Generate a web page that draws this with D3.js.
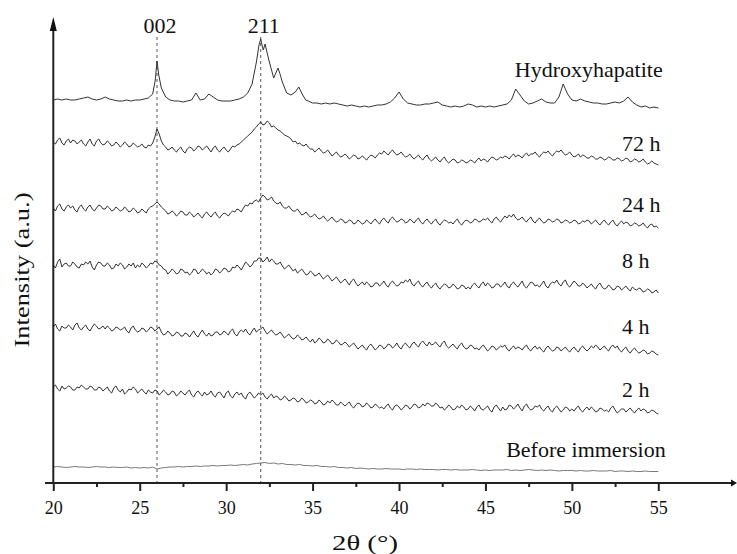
<!DOCTYPE html>
<html><head><meta charset="utf-8">
<script src="https://cdn.jsdelivr.net/npm/d3@7"></script>
<style>
body{margin:0;background:#fff}
svg{display:block}
text{font-family:"Liberation Serif","Times New Roman",serif;fill:#111}
</style>
</head><body>
<svg id="chart" width="737" height="554"></svg>
<script>
// ---- DATA ----
// fine sampling grid (2θ, degrees) for the noisy time-series scans
const twoTheta = [20,20.125,20.25,20.375,20.5,20.625,20.75,20.875,21,21.125,21.25,21.375,21.5,21.625,21.75,21.875,22,22.125,22.25,22.375,22.5,22.625,22.75,22.875,23,23.125,23.25,23.375,23.5,23.625,23.75,23.875,24,24.125,24.25,24.375,24.5,24.625,24.75,24.875,25,25.125,25.25,25.375,25.5,25.625,25.75,25.875,26,26.125,26.25,26.375,26.5,26.625,26.75,26.875,27,27.125,27.25,27.375,27.5,27.625,27.75,27.875,28,28.125,28.25,28.375,28.5,28.625,28.75,28.875,29,29.125,29.25,29.375,29.5,29.625,29.75,29.875,30,30.125,30.25,30.375,30.5,30.625,30.75,30.875,31,31.125,31.25,31.375,31.5,31.625,31.75,31.875,32,32.125,32.25,32.375,32.5,32.625,32.75,32.875,33,33.125,33.25,33.375,33.5,33.625,33.75,33.875,34,34.125,34.25,34.375,34.5,34.625,34.75,34.875,35,35.125,35.25,35.375,35.5,35.625,35.75,35.875,36,36.125,36.25,36.375,36.5,36.625,36.75,36.875,37,37.125,37.25,37.375,37.5,37.625,37.75,37.875,38,38.125,38.25,38.375,38.5,38.625,38.75,38.875,39,39.125,39.25,39.375,39.5,39.625,39.75,39.875,40,40.125,40.25,40.375,40.5,40.625,40.75,40.875,41,41.125,41.25,41.375,41.5,41.625,41.75,41.875,42,42.125,42.25,42.375,42.5,42.625,42.75,42.875,43,43.125,43.25,43.375,43.5,43.625,43.75,43.875,44,44.125,44.25,44.375,44.5,44.625,44.75,44.875,45,45.125,45.25,45.375,45.5,45.625,45.75,45.875,46,46.125,46.25,46.375,46.5,46.625,46.75,46.875,47,47.125,47.25,47.375,47.5,47.625,47.75,47.875,48,48.125,48.25,48.375,48.5,48.625,48.75,48.875,49,49.125,49.25,49.375,49.5,49.625,49.75,49.875,50,50.125,50.25,50.375,50.5,50.625,50.75,50.875,51,51.125,51.25,51.375,51.5,51.625,51.75,51.875,52,52.125,52.25,52.375,52.5,52.625,52.75,52.875,53,53.125,53.25,53.375,53.5,53.625,53.75,53.875,54,54.125,54.25,54.375,54.5,54.625,54.75,54.875,55];

// coarse grid for the smooth "before immersion" scan
const twoThetaCoarse = [20,20.25,20.5,20.75,21,21.25,21.5,21.75,22,22.25,22.5,22.75,23,23.25,23.5,23.75,24,24.25,24.5,24.75,25,25.25,25.5,25.75,26,26.25,26.5,26.75,27,27.25,27.5,27.75,28,28.25,28.5,28.75,29,29.25,29.5,29.75,30,30.25,30.5,30.75,31,31.25,31.5,31.75,32,32.25,32.5,32.75,33,33.25,33.5,33.75,34,34.25,34.5,34.75,35,35.25,35.5,35.75,36,36.25,36.5,36.75,37,37.25,37.5,37.75,38,38.25,38.5,38.75,39,39.25,39.5,39.75,40,40.25,40.5,40.75,41,41.25,41.5,41.75,42,42.25,42.5,42.75,43,43.25,43.5,43.75,44,44.25,44.5,44.75,45,45.25,45.5,45.75,46,46.25,46.5,46.75,47,47.25,47.5,47.75,48,48.25,48.5,48.75,49,49.25,49.5,49.75,50,50.25,50.5,50.75,51,51.25,51.5,51.75,52,52.25,52.5,52.75,53,53.25,53.5,53.75,54,54.25,54.5,54.75,55];

const beforeImmersion = [5,5.5,5,4.5,5,5.5,5,5,4.5,5,5.5,5,5,4.5,5,4.5,4.5,5,4,4.5,4,4.5,4,5,3,4,4.5,5,5,5.5,5,5.5,5.5,6,5.5,6,6,6.5,6,6.5,6.5,7,6.5,7,7.5,7,8,8.5,9,9.5,8.5,9,8,8.5,7.5,7.5,7,7.5,6.5,6.5,6,6.5,5.5,5.5,5,5.5,4.5,4.5,4,4.5,3.5,4,3.5,3,3.5,3,3,3.5,3,3,3,2.5,3,3,2.5,3,2.5,2.5,2.5,2,2.5,2.5,2,2.5,2,2,2,2.5,2,1.5,2,1.5,2,2,2,2.5,1.5,2,1.5,2,2.5,2,1.5,2,1.5,2,1.5,1,1.5,1.5,1.5,1,1.5,1,1,1.5,1,1,1,1.5,0.5,1,1,0.5,1,0.5,0.5,1,0.5,0.5,0.5];

const h2 = [27,29,25,23,28,25,26,28, 27,24,24,27,26,29,27,25, 25,28,27,24,24,27,26,23, 25,27,23,21,26,28,24,22, 25,20,22,25,24,27,25,21, 23,25,22,20,24,22,21,24, 23,19,21,24,22,19,20,23, 22,18,20,23,21,19,22,24, 19,17,21,23,20,18,22,19, 20,23,19,17,21,22,19,16, 21,23,18,16,20,22,19,21, 17,15,20,22,19,16,18,21, 19,21,17,15,18,20,16,18, 17,14,15,18,16,13,14,16, 15,12,13,16,14,11,12,14, 13,10,11,14,12,9,10,13, 11,14,12,9,9,12,10,8, 10,12,8,6,9,11,10,7, 8,11,9,6,7,10,8,6, 7,5,8,10,6,4,8,9, 7,4,6,9,8,5,7,10, 9,6,7,10,8,11,10,8, 8,11,9,6,7,4,6,9, 7,4,5,8,6,9,7,4, 5,8,6,3,7,9,5,4, 6,8,4,2,7,9,6,3, 7,4,5,9,8,5,7,10, 6,3,8,10,6,4,5,8, 7,9,5,3,6,8,4,2, 6,8,5,2,4,7,6,3, 5,3,6,8,4,2,5,7, 4,7,5,2,3,6,5,3, 4,2,6,8,4,1,3,5, 5,2,4,6,3,1,4,6, 3,5,4,1,2,4,3,1, 0];

const h4 = [28,31,26,24,29,27,27,30, 28,25,30,32,27,25,28,30, 26,24,28,31,29,26,27,29, 26,29,27,24,25,28,27,25, 26,28,24,22,27,29,25,23, 24,27,26,23,25,28,27,24, 26,28,23,20,21,24,22,19, 20,23,22,19,19,22,21,18, 21,24,20,18,22,25,21,19, 22,19,20,23,23,20,21,24, 22,20,24,26,21,19,23,25, 23,26,22,20,24,27,23,25, 26,28,24,21,23,25,22,20, 21,23,20,17,19,21,18,16, 17,20,18,15,16,18,15,13, 16,12,14,17,15,12,13,16, 14,11,12,15,13,10,11,13, 11,8,10,12,9,6,8,10, 7,5,9,11,8,5,7,10, 9,6,8,11,10,7,9,12, 8,6,10,12,9,7,11,13, 10,8,12,14,11,9,13,10, 11,13,10,8,12,14,9,7, 9,11,8,6,10,12,8,6, 7,10,9,6,7,5,8,10, 7,4,6,9,8,5,7,9, 8,10,6,4,7,9,6,8, 7,5,8,10,6,4,7,9, 6,8,5,3,7,9,6,4, 5,8,7,4,6,8,5,3, 6,8,5,3,7,9,6,4, 6,9,7,10,8,5,7,9, 6,4,8,10,7,9,5,3, 6,8,4,2,5,7,4,2, 3,5,4,1,2,4,3,1, 0];

const h8 = [27,24,30,33,25,28,29,26, 26,30,28,25,24,28,27,30, 28,31,25,22,27,30,29,26, 26,29,27,23,24,28,26,29, 27,23,25,28,26,29,24,27, 25,29,27,24,26,29,28,31, 30,27,26,23,22,18,20,23, 21,18,19,23,22,19,20,17, 19,23,22,18,20,23,21,18, 20,17,19,23,22,19,21,24, 23,20,21,25,24,27,25,22, 26,30,28,25,27,31,31,34, 34,30,32,35,30,33,31,28, 28,30,26,23,25,27,24,21, 23,19,21,23,20,17,18,21, 19,16,17,19,16,13,15,17, 14,11,13,15,12,9,11,13, 10,7,11,13,9,6,8,10, 7,10,8,5,6,9,9,6, 8,11,7,5,9,11,8,6, 7,10,9,12,10,13,8,6, 9,11,7,5,8,10,6,4, 7,9,5,3,6,8,7,4, 5,8,6,3,4,7,6,3, 5,3,7,9,6,4,8,10, 6,9,7,4,5,8,8,5, 7,10,6,4,8,10,7,5, 8,11,6,4,7,10,9,6, 7,5,8,11,6,4,8,10, 9,12,8,6,10,12,7,5, 8,11,9,6,6,9,7,4, 6,8,5,3,7,9,5,3, 4,7,5,2,3,6,5,2, 4,6,3,1,5,3,2,4, 3,0,1,3,2,-1,0,2, -1];

const h24 = [20,17,22,24,19,17,21,23, 20,22,18,16,21,23,19,17, 21,23,19,17,20,23,22,19, 19,22,20,17,18,21,19,17, 18,21,19,16,17,20,18,15, 16,19,17,15,19,21,22,24, 26,24,21,19,17,14,15,17, 15,12,14,17,16,13,13,16, 14,11,13,15,12,10,14,16, 13,11,14,16,12,10,13,15, 14,12,15,17,16,19,18,16, 20,23,22,25,24,27,28,26, 30,33,31,28,29,31,27,25, 24,26,22,20,20,22,19,17, 17,19,16,13,14,16,13,11, 12,14,11,9,10,12,9,7, 9,11,8,6,7,9,8,5, 6,8,7,4,5,8,6,4, 5,8,6,4,7,9,6,4, 8,10,7,5,9,11,8,6, 7,9,8,5,6,9,7,5, 8,10,6,4,7,9,6,4, 7,9,5,3,6,8,7,5, 6,4,7,9,5,3,6,8, 7,5,6,9,8,6,7,9, 8,10,7,5,9,11,8,6, 9,12,10,13,11,14,10,8, 9,11,8,6,9,11,7,5, 8,10,7,5,6,9,8,6, 7,9,8,5,6,8,7,5, 6,8,7,4,5,7,6,8, 7,4,6,8,5,3,6,8, 5,3,6,8,4,2,5,7, 4,6,5,2,3,5,4,2, 3,5,2,0,3,4,1,2, 0];

const h72 = [23,21,25,27,22,20,24,26, 22,25,24,21,23,25,21,19, 23,26,21,19,24,26,22,20, 21,24,22,19,20,23,21,18, 20,23,21,18,19,22,20,18, 19,21,18,17,20,19,22,28, 36,31,24,20,18,15,16,18, 15,13,16,18,14,12,16,18, 17,14,16,19,18,15,17,19, 16,13,17,19,15,13,16,18, 15,13,16,19,18,20,21,23, 25,27,29,31,33,36,38,41, 43,40,41,44,42,38,39,37, 35,34,32,30,29,28,26,23, 24,21,22,20,19,21,18,16, 16,13,15,17,14,12,13,15, 12,9,11,13,10,8,9,11, 9,6,8,10,9,6,7,9, 7,5,8,10,9,7,10,12, 11,14,12,10,13,15,12,10, 11,13,10,8,9,11,8,6, 8,10,7,5,8,10,6,4, 6,8,5,3,6,8,4,2, 4,6,5,2,3,5,4,2, 3,5,4,2,5,7,4,6, 5,3,6,8,7,5,6,8, 7,9,8,6,9,11,8,10, 9,7,10,12,9,11,11,13, 10,8,11,13,12,14,11,9, 12,14,13,15,12,10,11,13, 10,8,9,11,8,10,9,7, 7,9,8,6,6,8,7,5, 6,8,7,5,5,7,6,4, 5,7,6,3,4,6,5,3, 4,6,3,1,2,4,2,1, 0];

const haTheta = [20,20.25,20.5,20.75,21,21.25,21.5,21.75,22,22.25,22.5,22.75,23,23.25,23.5,23.75,24,24.25,24.5,24.75,25,25.25,25.5,25.75,25.9,26,26.1,26.25,26.5,26.75,27,27.25,27.5,27.75,28,28.25,28.5,28.75,29,29.25,29.5,29.75,30,30.25,30.5,30.75,31,31.25,31.5,31.75,31.9,32,32.1,32.15,32.25,32.4,32.5,32.75,32.9,33,33.1,33.25,33.5,33.75,34,34.2,34.4,34.6,34.75,35,35.25,35.5,35.75,36,36.25,36.5,36.75,37,37.25,37.5,37.75,38,38.25,38.5,38.75,39,39.25,39.5,39.75,40,40.25,40.5,40.75,41,41.25,41.5,41.75,42,42.25,42.5,42.75,43,43.25,43.5,43.75,44,44.25,44.5,44.75,45,45.25,45.5,45.75,46,46.25,46.5,46.75,47,47.25,47.5,47.75,48,48.25,48.5,48.75,49,49.25,49.5,49.75,50,50.25,50.5,50.75,51,51.25,51.5,51.75,52,52.25,52.5,52.75,53,53.25,53.5,53.75,54,54.25,54.5,54.75,55];
const hydroxyapatite = [8,9,8,9,8,8,9,10,11,9,8,9,11,9,8,7,7,8,7,8,8,9,10,14,28,47,33,20,11,8,7,7,6,7,8,15,8,9,14,11,8,7,7,7,8,9,11,15,24,46,63,69,61,58,64,53,46,30,36,40,35,26,15,13,16,21,14,8,7,5,5,4,5,4,5,4,3,2,3,2,1,2,1,2,3,3,4,6,10,16,9,5,4,3,3,4,4,5,6,3,2,1,2,1,2,4,3,1,2,1,2,1,2,3,4,8,19,13,7,4,5,7,9,6,5,5,11,24,14,8,7,9,7,6,5,5,4,4,5,6,5,7,11,6,3,1,2,0,1,0];

const seriesNames = ["Before immersion","2 h","4 h","8 h","24 h","72 h","Hydroxyhapatite"];
const seriesOffsets = [11,69,128,191,255,318,375];
const peakPositions = [26,32];
const peakLabels = ["002","211"];
const xTickValues = [20,25,30,35,40,45,50,55];
const xMinorTickValues = [22.5,27.5,32.5,37.5,42.5,47.5,52.5];

// ---- LAYOUT ----
const svg = d3.select("#chart");
const x = d3.scaleLinear().domain([20,55]).range([53.3,658.3]);
const y = d3.scaleLinear().domain([0,465]).range([483,18]);
const axisY = y(0);

const seriesData = [
  {theta: twoThetaCoarse, values: beforeImmersion},
  {theta: twoTheta, values: h2},
  {theta: twoTheta, values: h4},
  {theta: twoTheta, values: h8},
  {theta: twoTheta, values: h24},
  {theta: twoTheta, values: h72},
  {theta: haTheta, values: hydroxyapatite}
];
const seriesStyle = [
  {stroke:"#6a6a6a", width:0.9},
  {stroke:"#1a1a1a", width:0.9},
  {stroke:"#1a1a1a", width:0.9},
  {stroke:"#1a1a1a", width:0.9},
  {stroke:"#1a1a1a", width:0.9},
  {stroke:"#1a1a1a", width:0.9},
  {stroke:"#333333", width:1.0}
];
// label anchors in data units (theta, intensity)
const labelAnchors = [[46.2,26],[52.9,86],[52.9,149],[52.9,215],[52.9,271],[52.9,332],[46.7,406]];

// dashed reference lines
svg.append("g").selectAll("line").data(peakPositions).join("line")
  .attr("x1", d=>x(d)).attr("x2", d=>x(d))
  .attr("y1", 37).attr("y2", axisY)
  .attr("stroke","#555").attr("stroke-width",1).attr("stroke-dasharray","3,3");
svg.append("g").selectAll("text").data(peakLabels).join("text")
  .attr("x",(d,i)=>x(peakPositions[i])+3).attr("y",33)
  .attr("text-anchor","middle").attr("font-size",22).text(d=>d);

// series
const line = d3.line().x(d=>x(d[0])).y(d=>y(d[1]));
seriesData.forEach((s,i)=>{
  const pts = d3.zip(s.theta, s.values).map(p=>[p[0], p[1]+seriesOffsets[i]]);
  svg.append("path").datum(pts).attr("d",line)
    .attr("fill","none").attr("stroke",seriesStyle[i].stroke)
    .attr("stroke-width",seriesStyle[i].width).attr("stroke-linejoin","round");
  svg.append("text").attr("x",x(labelAnchors[i][0])).attr("y",y(labelAnchors[i][1]))
    .attr("font-size",22).text(seriesNames[i]);
});

// x axis
const gx = svg.append("g").attr("transform",`translate(0,${axisY})`)
  .call(d3.axisBottom(x).tickValues(xTickValues).tickSize(8).tickSizeOuter(0).tickPadding(10).tickFormat(d3.format("d")));
gx.select(".domain").remove();
gx.selectAll(".tick line").attr("stroke","#222").attr("stroke-width",2);
gx.selectAll(".tick text").attr("font-size",18).attr("font-family",'"Liberation Serif",serif').attr("fill","#222");
const gxm = svg.append("g").attr("transform",`translate(0,${axisY})`)
  .call(d3.axisBottom(x).tickValues(xMinorTickValues).tickSize(4).tickSizeOuter(0).tickFormat(""));
gxm.select(".domain").remove();
gxm.selectAll(".tick line").attr("stroke","#222").attr("stroke-width",2);

svg.append("line").attr("x1",45).attr("x2",731).attr("y1",axisY).attr("y2",axisY)
  .attr("stroke","#222").attr("stroke-width",2);
svg.append("path").attr("d",`M731,${axisY-3.5}L737,${axisY}L731,${axisY+3.5}Z`).attr("fill","#111");

// y axis
svg.append("line").attr("x1",x(20)).attr("x2",x(20)).attr("y1",axisY+1).attr("y2",30)
  .attr("stroke","#222").attr("stroke-width",2);
svg.append("path").attr("d",`M${x(20)-3.5},31L${x(20)},17L${x(20)+3.5},31Z`).attr("fill","#111");

// axis titles
svg.append("text").attr("x",365).attr("y",550).attr("text-anchor","middle")
  .attr("font-size",22).attr("textLength",66).attr("lengthAdjust","spacingAndGlyphs").text("2θ (°)");
svg.append("text").attr("transform","translate(29,270) rotate(-90)").attr("text-anchor","middle")
  .attr("font-size",22).attr("textLength",155).attr("lengthAdjust","spacingAndGlyphs").text("Intensity (a.u.)");
</script>
</body></html>
